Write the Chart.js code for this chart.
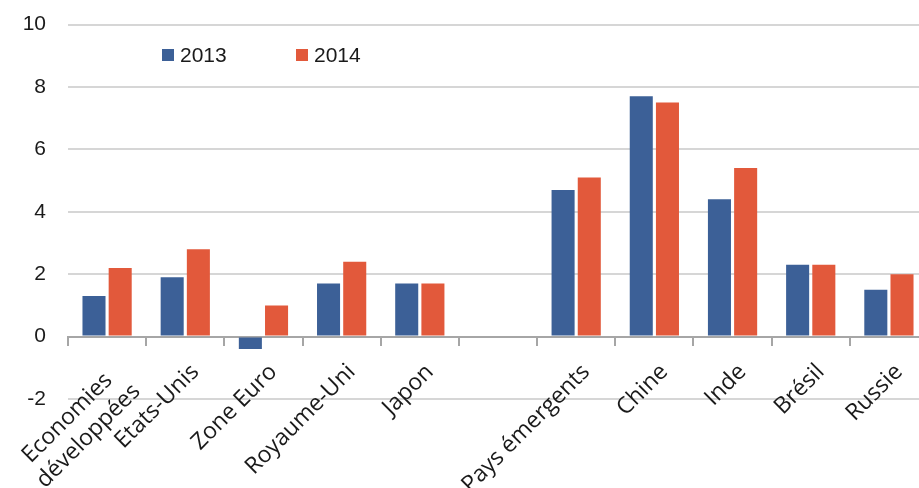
<!DOCTYPE html>
<html>
<head>
<meta charset="utf-8">
<script src="https://cdn.jsdelivr.net/npm/chart.js@4"></script>
<style>
  html, body { margin: 0; padding: 0; background: #fff; overflow: hidden; }
  #wrap { position: relative; width: 930px; height: 498px; margin-top: -10px; }
</style>
</head>
<body>
<div id="wrap"><canvas id="chart"></canvas></div>
<script>
// ── data ────────────────────────────────────────────────────────────────────
const categories = [
  ['Economies  ', 'développées'], 'Etats-Unis', 'Zone Euro', 'Royaume-Uni', 'Japon',
  '', 'Pays émergents', 'Chine', 'Inde', 'Brésil', 'Russie'
];
const seriesNames = ['2013', '2014'];
const values2013 = [1.3, 1.9, -0.4, 1.7, 1.7, null, 4.7, 7.7, 4.4, 2.3, 1.5];
const values2014 = [2.2, 2.8, 1.0, 2.4, 1.7, null, 5.1, 7.5, 5.4, 2.3, 2.0];
const yTicks = [-2, 0, 2, 4, 6, 8, 10];

const BLUE = '#3C6097';
const ORANGE = '#E2593B';

// legend drawn inside the plot area, like the original
const insideLegend = {
  id: 'insideLegend',
  afterDraw(chart) {
    const ctx = chart.ctx;
    const xs = [162, 296];
    ctx.save();
    ctx.font = '21px "Liberation Sans", Arial, sans-serif';
    ctx.textBaseline = 'middle';
    chart.data.datasets.forEach((ds, i) => {
      ctx.fillStyle = ds.backgroundColor;
      ctx.fillRect(xs[i], 59, 12, 12);
      ctx.fillStyle = '#1a1a1a';
      ctx.fillText(ds.label, xs[i] + 18, 66);
    });
    ctx.restore();
  }
};

new Chart(document.getElementById('chart'), {
  type: 'bar',
  data: {
    labels: categories,
    datasets: [
      { label: seriesNames[0], data: values2013, backgroundColor: BLUE },
      { label: seriesNames[1], data: values2014, backgroundColor: ORANGE }
    ]
  },
  options: {
    responsive: true, maintainAspectRatio: false, animation: false,
    categoryPercentage: 0.67, barPercentage: 0.88,
    layout: { padding: { top: 14, bottom: 89, right: 2 } },
    plugins: { legend: { display: false }, tooltip: { enabled: false } },
    scales: {
      x: {
        position: { y: 0 },
        afterFit: s => { s.paddingLeft = 0; s.paddingRight = 0; },
        border: { display: true, color: '#a6a6a6', width: 2 },
        grid: { offset: true, drawOnChartArea: false, drawTicks: true, tickLength: 8, color: '#a6a6a6', lineWidth: 2 },
        ticks: {
          minRotation: 45, maxRotation: 45, autoSkip: false, padding: 14, labelOffset: 10,
          color: '#1a1a1a', font: { family: '"Open Sans", sans-serif', size: 23 }
        }
      },
      y: {
        min: -2, max: 10,
        afterBuildTicks: s => { s.ticks = yTicks.map(v => ({ value: v })); },
        afterFit: s => { s.width = 68; },
        border: { display: false },
        grid: { color: '#d6d6d6', lineWidth: 2, drawTicks: false },
        ticks: {
          padding: 22, color: '#1a1a1a',
          font: { family: '"Liberation Sans", Arial, sans-serif', size: 21 }
        }
      }
    }
  },
  plugins: [insideLegend]
});
</script>
</body>
</html>
